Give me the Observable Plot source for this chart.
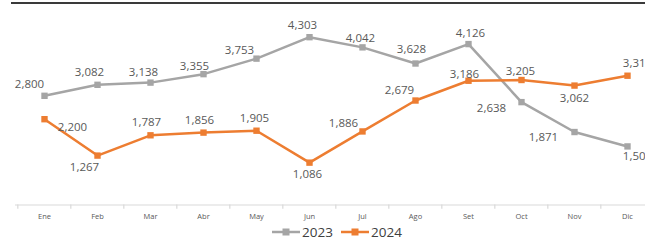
<!DOCTYPE html>
<html>
<head>
<meta charset="utf-8">
<script src="https://cdn.jsdelivr.net/npm/d3@7"></script>
<script src="https://cdn.jsdelivr.net/npm/@observablehq/plot@0.6"></script>
<style>
  html, body { margin: 0; padding: 0; background: #fff; overflow: hidden; }
  #wrap { position: relative; width: 645px; height: 240px; overflow: hidden; font-family: "Open Sans", sans-serif; }
  #topline { position: absolute; top: 2px; left: 11px; width: 640px; height: 0; border-top: 2px solid #3a3a3a; }
  #chart { position: absolute; top: 0; left: 0; }
  #legend { position: absolute; top: 224px; left: 0; width: 645px; height: 16px; }
  .lg { position: absolute; top: 0; height: 16px; display: flex; align-items: center; font-size: 13.5px; color: #404040; }
</style>
</head>
<body>
<div id="wrap">
  <div id="chart"></div>
  <div id="topline"></div>
  <div id="legend"></div>
</div>
<script>
const months = ["Ene", "Feb", "Mar", "Abr", "May", "Jun", "Jul", "Ago", "Set", "Oct", "Nov", "Dic"];
const series = ["2023", "2024"];
const v2023 = [2800, 3082, 3138, 3355, 3753, 4303, 4042, 3628, 4126, 2638, 1871, 1502];
const v2024 = [2200, 1267, 1787, 1856, 1905, 1086, 1886, 2679, 3186, 3205, 3062, 3315];

// label placement (style): [dx, dy] from each point
const off2023 = [[-15,-11],[-8,-12],[-7,-10],[-9,-8],[-17,-8],[-7,-12],[-2,-9],[-4,-14],[2,-11],[-30,6],[-31,5],[10,10]];
const off2024 = [[28,8],[-13,12],[-4,-13],[-4,-12],[-2,-12],[-2,12],[-19,-8],[-16,-10],[-4,-6],[-1,-9],[0,13],[10,-12]];

const colors = {"2023": "#A5A5A5", "2024": "#ED7D31"};
const fmt = d3.format(",");

const data = [];
months.forEach((m, i) => {
  data.push({month: m, year: "2023", value: v2023[i], off: off2023[i]});
  data.push({month: m, year: "2024", value: v2024[i], off: off2024[i]});
});

const labelMarks = data.map(d => Plot.text([d], {
  x: "month", y: "value", text: r => fmt(r.value),
  dx: d.off[0], dy: d.off[1],
  fill: "#595959", fontSize: 11.5, textAnchor: "middle", lineAnchor: "middle"
}));

const plot = Plot.plot({
  width: 645,
  height: 222,
  marginTop: 9.5,
  marginBottom: 17.5,
  marginLeft: 15,
  marginRight: 0,
  style: {fontFamily: "'Open Sans', sans-serif", background: "transparent"},
  x: {type: "point", domain: months, range: [42, 629], padding: 0},
  y: {domain: [0, 5000], axis: null},
  color: {domain: series, range: series.map(s => colors[s])},
  marks: [
    Plot.ruleY([0], {stroke: "#d9d9d9", strokeWidth: 1.2}),
    Plot.ruleX(months, {x: d => d, y1: 0, y2: -110, dx: -26.68, stroke: "#d9d9d9", strokeWidth: 1.2}),
    Plot.axisX({tickSize: 0, tickPadding: 9, fontSize: 7.5, fill: "#595959", label: null}),
    Plot.line(data, {x: "month", y: "value", z: "year", stroke: "year", strokeWidth: 2.5}),
    Plot.dot(data, {x: "month", y: "value", fill: "year", symbol: "square", r: 3.6, stroke: "none"}),
    ...labelMarks
  ]
});
document.getElementById("chart").appendChild(plot);

// legend
const legend = document.getElementById("legend");
const lgPos = {"2023": 272, "2024": 341};
series.forEach(s => {
  const item = document.createElement("div");
  item.className = "lg";
  item.style.left = lgPos[s] + "px";
  item.innerHTML = `<svg width="28" height="16" style="margin-right:2px"><line x1="0" x2="28" y1="8" y2="8" stroke="${colors[s]}" stroke-width="2.5"/><rect x="10.5" y="4.5" width="7" height="7" fill="${colors[s]}"/></svg><span>${s}</span>`;
  legend.appendChild(item);
});
</script>
</body>
</html>
